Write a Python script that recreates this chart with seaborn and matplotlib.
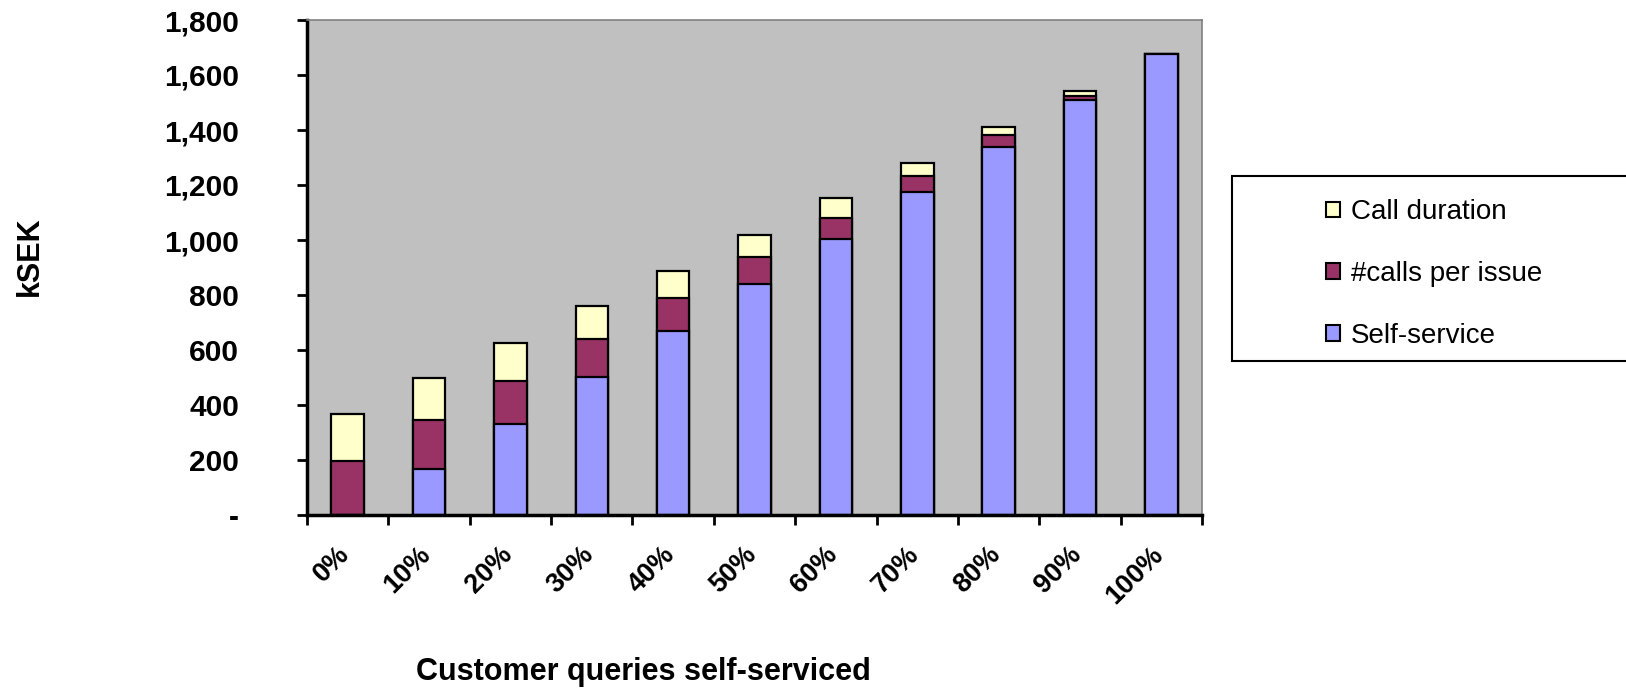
import numpy as np
import pandas as pd
import matplotlib
matplotlib.use("Agg")
import matplotlib.pyplot as plt
import matplotlib.patches as mpatches
from matplotlib.transforms import ScaledTranslation
import seaborn as sns

# ---- data (kSEK) ----
categories = ["0%", "10%", "20%", "30%", "40%", "50%", "60%", "70%", "80%", "90%", "100%"]
self_service = [0, 168, 331, 503, 668, 840, 1005, 1173, 1338, 1508, 1676]
calls_per_issue = [196, 178, 157, 136, 120, 98, 76, 58, 44, 14, 0]
call_duration = [172, 151, 137, 121, 101, 80, 73, 50, 28, 21, 0]
series_names = ["Self-service", "#calls per issue", "Call duration"]
y_ticks = [0, 200, 400, 600, 800, 1000, 1200, 1400, 1600, 1800]

colors = {"Self-service": "#9999FF", "#calls per issue": "#993366", "Call duration": "#FFFFCC"}

sns.set_style("white")
plt.rcParams["font.family"] = ["Liberation Sans", "DejaVu Sans"]
plt.rcParams["text.color"] = "black"
plt.rcParams["xtick.color"] = "black"
plt.rcParams["ytick.color"] = "black"
plt.rcParams["axes.labelcolor"] = "black"

df = pd.DataFrame({
    "cat": categories,
    "s1": np.array(self_service),
    "s2": np.array(self_service) + np.array(calls_per_issue),
    "s3": np.array(self_service) + np.array(calls_per_issue) + np.array(call_duration),
})

fig = plt.figure(figsize=(16.26, 6.89), dpi=100)
ax = fig.add_axes([307 / 1626, 1 - 515 / 689, (1202 - 307) / 1626, (515 - 20) / 689])
ax.set_facecolor("#C0C0C0")

for col, name in [("s3", "Call duration"), ("s2", "#calls per issue"), ("s1", "Self-service")]:
    sns.barplot(data=df, x="cat", y=col, ax=ax, color=colors[name], saturation=1,
                width=0.4, edgecolor="black", linewidth=1.6, order=categories)

ax.set_xlim(-0.5, len(categories) - 0.5)
ax.set_ylim(0, 1800)
ax.set_yticks(y_ticks)
ax.set_yticklabels(["-" if v == 0 else f"{v:,}" for v in y_ticks])

# spines
for s in ["left", "bottom"]:
    ax.spines[s].set_color("black")
    ax.spines[s].set_linewidth(2.5)
for s in ["top", "right"]:
    ax.spines[s].set_color("#808080")
    ax.spines[s].set_linewidth(1.2)

ax.tick_params(axis="y", direction="out", length=7, width=2, color="black",
               labelsize=21.5, pad=42, left=True, labelcolor="black")
for t in ax.get_yticklabels():
    t.set_fontweight("bold")

ax.set_xticks(np.arange(-0.5, len(categories), 1), minor=True)
ax.tick_params(axis="x", which="minor", direction="out", length=7, width=2, color="black", bottom=True)
ax.tick_params(axis="x", which="major", length=0, pad=19, labelsize=19.5, labelcolor="black")
ax.set_xticks(range(len(categories)))
ax.set_xticklabels(categories, rotation=45, ha="right", va="top", fontweight="bold")
off = ScaledTranslation(7 / 100, 0, fig.dpi_scale_trans)
for t in ax.get_xticklabels():
    t.set_transform(t.get_transform() + off)

ax.set_xlabel("")
ax.set_ylabel("")
fig.text(643 / 1626, 1 - 672 / 689, "Customer queries self-serviced", ha="center", va="center",
         fontsize=22, fontweight="bold", color="black")
fig.text(30 / 1626, 1 - 256 / 689, "kSEK", ha="center", va="center", rotation=90,
         fontsize=22, fontweight="bold", color="black")

# legend
handles = [mpatches.Patch(facecolor=colors[n], edgecolor="black", linewidth=1.5, label=n)
           for n in ["Call duration", "#calls per issue", "Self-service"]]
leg = fig.legend(handles=handles, loc="center left",
                 bbox_to_anchor=(1326 / 1626, 1 - 274 / 689),
                 frameon=False, fontsize=20, handlelength=0.5, handleheight=0.5,
                 handletextpad=0.4, labelspacing=1.28, borderaxespad=0, borderpad=0)
for t in leg.get_texts():
    t.set_color("black")
box = mpatches.Rectangle((1232 / 1626, 1 - 361 / 689), 420 / 1626, 185 / 689,
                         transform=fig.transFigure, facecolor="white", edgecolor="black",
                         linewidth=1.5, zorder=0)
fig.patches.append(box)

fig.savefig("out.png", dpi=100, facecolor="white")
